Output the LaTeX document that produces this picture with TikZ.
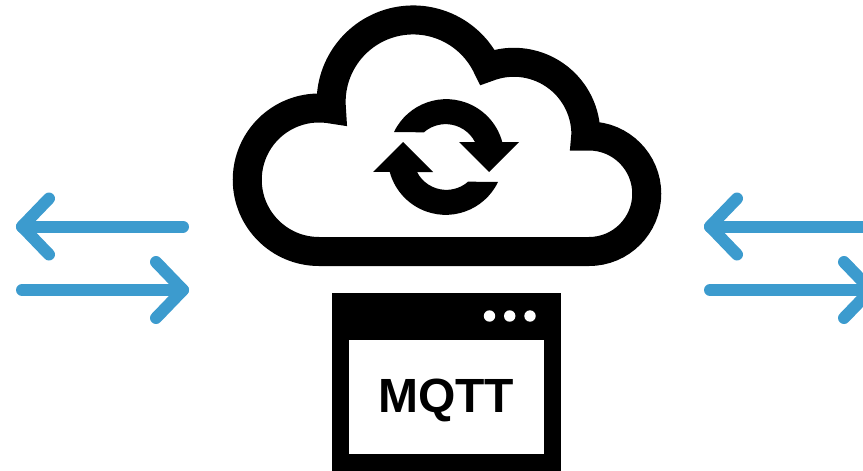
\documentclass[tikz,border=0pt]{standalone}
\usepackage{fontspec}
\setmainfont{Liberation Sans}
\usetikzlibrary{calc}
\definecolor{linkblue}{HTML}{3C9BCE}
\tikzset{flow/.style={linkblue,line width=12,line cap=round,line join=round},
cloudline/.style={line width=29,line join=miter,miter limit=10},
title/.style={font=\fontsize{48}{50}\selectfont\bfseries,anchor=base,inner sep=0pt}}

\begin{document}
\begin{tikzpicture}[x=1pt,y=-1pt]
\useasboundingbox (0,0) rectangle (863,471);
% cloud
\draw[cloudline] (589,251.5)--(319,251.5) arc[start angle=90,end angle=280,radius=71.75]
arc[start angle=175,end angle=335,radius=82]
arc[start angle=248.5,end angle=360,radius=72]--(585.7,136)--(589,136)
arc[start angle=270,end angle=450,radius=57.75]--cycle;
% sync arrows
\foreach \a in {0,180}{\fill[rotate around={\a:(446,157)}] (394,132) arc[start angle=205.7,end angle=345,radius=58]--(519,142)--(489,172)--(459,142)--(475,142) arc[start angle=332.7,end angle=228.7,radius=33]--cycle;}
% window
\fill (332,293) rectangle (561,471);
\fill[white] (349,339.5) rectangle (544,454);
\foreach \x in {489.5,509.7,530}{\fill[white] (\x,316) circle (5.7);}
\node[title] (mqtt) at (446,412.7){MQTT};
% left and right link arrows
\foreach \x/\n in {0/l,688/r}{\begin{scope}[shift={(\x,0)}]
\coordinate (\n topstart) at (183,226.5);\coordinate (\n toptip) at (22,226.5);
\coordinate (\n botstart) at (22,290);\coordinate (\n bottip) at (183,290);
\draw[flow] (\n topstart)--(\n toptip);\draw[flow] (49,198.5)--(\n toptip)--(49,254.5);
\draw[flow] (\n botstart)--(\n bottip);\draw[flow] (156,262)--(\n bottip)--(156,318);
\end{scope}}
\end{tikzpicture}
\end{document}
